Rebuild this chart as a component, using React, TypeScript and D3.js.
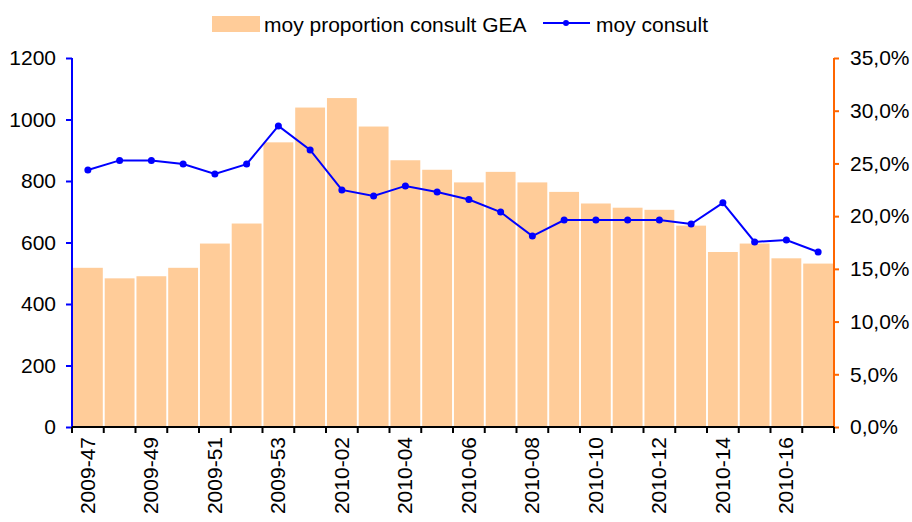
import React, { useEffect, useRef } from 'react';
import * as d3 from 'd3';

// weeks on the x axis
const weeks = [
  '2009-47', '2009-48', '2009-49', '2009-50', '2009-51', '2009-52', '2009-53',
  '2010-01', '2010-02', '2010-03', '2010-04', '2010-05', '2010-06', '2010-07',
  '2010-08', '2010-09', '2010-10', '2010-11', '2010-12', '2010-13', '2010-14',
  '2010-15', '2010-16', '2010-17',
];

// bars: moy proportion consult GEA (%), right axis
const proportionGEA = [
  15.1, 14.1, 14.3, 15.1, 17.4, 19.3, 27.0, 30.3, 31.2, 28.5, 25.3, 24.4,
  23.2, 24.2, 23.2, 22.3, 21.2, 20.8, 20.6, 19.1, 16.6, 17.4, 16.0, 15.5,
];

// line: moy consult, left axis
const moyConsult = [
  836, 867, 867, 855, 823, 855, 979, 901, 771, 751, 784, 764,
  740, 699, 621, 673, 673, 673, 673, 660, 729, 602, 608, 569,
];

const leftTicks = [0, 200, 400, 600, 800, 1000, 1200];
const rightTicks = [0, 5, 10, 15, 20, 25, 30, 35];
const labelledWeeks = weeks.filter((d, i) => i % 2 === 0);

const barColor = '#FFCC99';
const lineColor = '#0000FF';
const rightAxisColor = '#FF6600';
const font = '"Liberation Sans", Arial, sans-serif';

export default function App() {
  const ref = useRef<SVGSVGElement>(null);

  useEffect(() => {
    const margin = { top: 58, right: 78, bottom: 95, left: 72 };
    const width = 912 - margin.left - margin.right;
    const height = 522 - margin.top - margin.bottom;

    const root = d3.select(ref.current);
    root.selectAll('*').remove();

    const svg = root
      .append('g')
      .attr('transform', `translate(${margin.left}, ${margin.top})`);

    const x = d3.scaleBand().domain(weeks).range([0, width]).paddingInner(0.06).paddingOuter(0.03);
    const yLeft = d3.scaleLinear().domain([0, 1200]).range([height, 0]);
    const yRight = d3.scaleLinear().domain([0, 35]).range([height, 0]);

    // bars
    svg
      .append('g')
      .selectAll('rect')
      .data(proportionGEA)
      .enter()
      .append('rect')
      .attr('x', (d, i) => x(weeks[i]) as number)
      .attr('y', (d) => yRight(d))
      .attr('width', x.bandwidth())
      .attr('height', (d) => height - yRight(d))
      .attr('fill', barColor);

    // line
    const line = d3
      .line<number>()
      .x((d, i) => (x(weeks[i]) as number) + x.bandwidth() / 2)
      .y((d) => yLeft(d));

    svg
      .append('path')
      .datum(moyConsult)
      .attr('fill', 'none')
      .attr('stroke', lineColor)
      .attr('stroke-width', 2)
      .attr('d', line);

    svg
      .append('g')
      .selectAll('circle')
      .data(moyConsult)
      .enter()
      .append('circle')
      .attr('cx', (d, i) => (x(weeks[i]) as number) + x.bandwidth() / 2)
      .attr('cy', (d) => yLeft(d))
      .attr('r', 3.5)
      .attr('fill', lineColor);

    // left axis
    const leftAxis = svg
      .append('g')
      .call(
        d3
          .axisLeft(yLeft)
          .tickValues(leftTicks)
          .tickSize(6)
          .tickPadding(10)
          .tickFormat(d3.format('d'))
      );
    leftAxis.select('.domain').attr('stroke', lineColor).attr('stroke-width', 2).attr('d', `M0,0V${height}`);
    leftAxis.selectAll('.tick line').attr('stroke', lineColor).attr('stroke-width', 2);

    // right axis
    const rightAxis = svg
      .append('g')
      .attr('transform', `translate(${width}, 0)`)
      .call(
        d3
          .axisRight(yRight)
          .tickValues(rightTicks)
          .tickSize(5)
          .tickPadding(11)
          .tickFormat((d) => d3.format('.1f')(d as number).replace('.', ',') + '%')
      );
    rightAxis.select('.domain').attr('stroke', rightAxisColor).attr('stroke-width', 2).attr('d', `M0,0V${height}`);
    rightAxis.selectAll('.tick line').attr('stroke', rightAxisColor).attr('stroke-width', 2);

    // bottom axis: ticks between categories
    const bottom = svg.append('g').attr('transform', `translate(0, ${height})`);
    bottom
      .append('line')
      .attr('x1', 0)
      .attr('x2', width)
      .attr('stroke', 'black')
      .attr('stroke-width', 2);
    const step = x.step();
    const start = (x(weeks[0]) as number) - (step - x.bandwidth()) / 2;
    bottom
      .selectAll('.sep')
      .data(d3.range(weeks.length + 1))
      .enter()
      .append('line')
      .attr('x1', (i) => Math.min(start + i * step, width))
      .attr('x2', (i) => Math.min(start + i * step, width))
      .attr('y1', 0)
      .attr('y2', 6)
      .attr('stroke', 'black')
      .attr('stroke-width', 2);
    bottom
      .selectAll('.lbl')
      .data(labelledWeeks)
      .enter()
      .append('text')
      .attr(
        'transform',
        (d) => `translate(${(x(d) as number) + x.bandwidth() / 2 + 7}, 10) rotate(-90)`
      )
      .attr('text-anchor', 'end')
      .attr('fill', 'black')
      .text((d) => d);

    root.selectAll('text').style('font-family', font).style('font-size', '21px').attr('fill', 'black');

    // legend
    const legend = root.append('g').style('font-family', font).style('font-size', '21px');
    legend.append('rect').attr('x', 212).attr('y', 16).attr('width', 48).attr('height', 16).attr('fill', barColor);
    legend.append('text').attr('x', 264).attr('y', 32).text('moy proportion consult GEA');
    legend
      .append('line')
      .attr('x1', 543)
      .attr('x2', 590)
      .attr('y1', 23)
      .attr('y2', 23)
      .attr('stroke', lineColor)
      .attr('stroke-width', 2);
    legend.append('circle').attr('cx', 566).attr('cy', 23).attr('r', 3).attr('fill', lineColor);
    legend.append('text').attr('x', 596).attr('y', 32).text('moy consult');
  }, []);

  return (
    <svg
      ref={ref}
      width={912}
      height={522}
      style={{ position: 'absolute', left: 0, top: 0, background: 'white' }}
    />
  );
}
